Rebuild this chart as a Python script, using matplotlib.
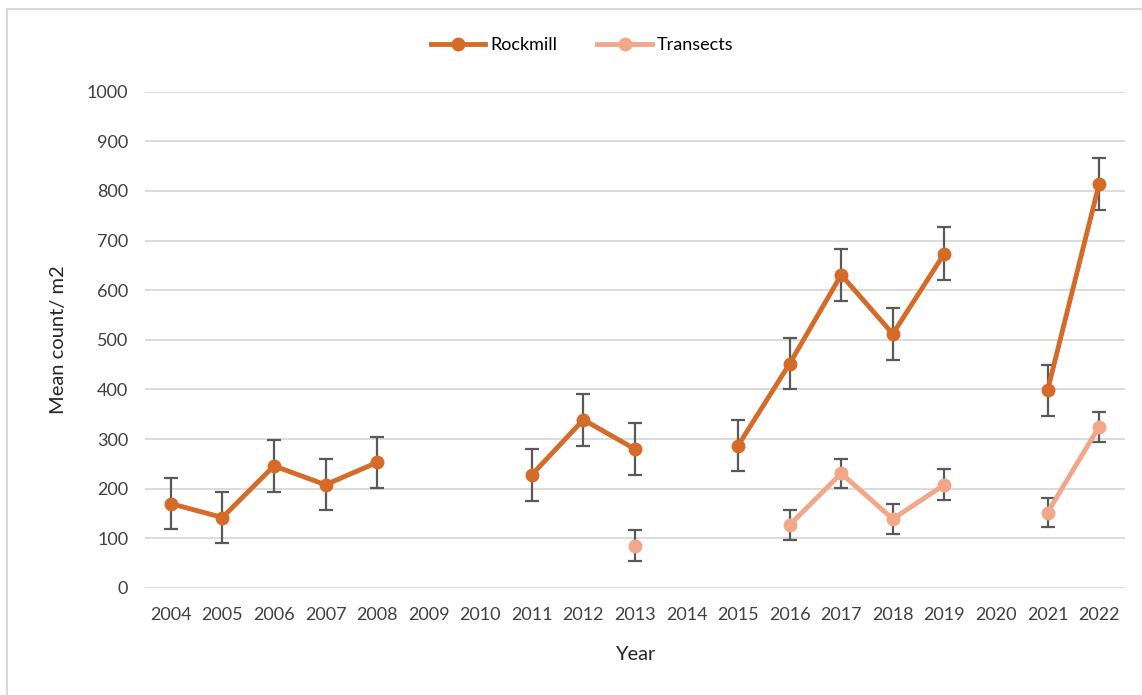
import numpy as np
import matplotlib.pyplot as plt
from matplotlib.lines import Line2D

plt.rcParams['font.family'] = ['Lato', 'DejaVu Sans']

# Datos
years = ['2004', '2005', '2006', '2007', '2008', '2009', '2010', '2011', '2012', '2013',
         '2014', '2015', '2016', '2017', '2018', '2019', '2020', '2021', '2022']
nan = np.nan
rockmill = [170, 142, 246, 208, 253, nan, nan, 228, 339, 280,
            nan, 287, 452, 631, 512, 674, nan, 398, 814]
rockmill_err = [51, 52, 52, 51, 52, nan, nan, 52, 52, 52,
                nan, 52, 51, 52, 52, 53, nan, 51, 53]
transects = [nan, nan, nan, nan, nan, nan, nan, nan, nan, 85,
             nan, nan, 127, 231, 139, 208, nan, 152, 325]
transects_err = [nan, nan, nan, nan, nan, nan, nan, nan, nan, 31,
                 nan, nan, 31, 29, 30, 31, nan, 29, 30]

c_rock = '#D46B29'
c_tran = '#F2A78A'
c_err = '#595959'

fig = plt.figure(figsize=(11.42, 6.95), dpi=100)
ax = fig.add_axes([0.127, 0.154, 0.858, 0.714])

x = np.arange(len(years))

for vals, errs, col in [(rockmill, rockmill_err, c_rock), (transects, transects_err, c_tran)]:
    vals = np.array(vals, dtype=float)
    errs = np.array(errs, dtype=float)
    ax.errorbar(x, vals, yerr=errs, fmt='none', ecolor=c_err, elinewidth=1.6,
                capsize=5, capthick=1.6, zorder=2)
    ax.plot(x, vals, color=col, linewidth=3.5, marker='o', markersize=9, zorder=3)

ax.set_xlim(-0.5, len(years) - 0.5)
ax.set_ylim(0, 1000)
ax.set_xticks(x)
ax.set_xticklabels(years)
ax.set_yticks(np.arange(0, 1001, 100))
ax.tick_params(axis='both', length=0, labelsize=13, colors='#404040')
ax.tick_params(axis='x', pad=14)
ax.tick_params(axis='y', pad=12)
ax.yaxis.grid(True, color='#D9D9D9', linewidth=1.3)
ax.set_axisbelow(True)
for s in ax.spines.values():
    s.set_visible(False)

ax.set_xlabel('Year', fontsize=14.5, color='#262626', labelpad=16)
ax.set_ylabel('Mean count/ m2', fontsize=14.5, color='#262626', labelpad=14)

handles = [Line2D([], [], color=c_rock, linewidth=3.5, marker='o', markersize=9),
           Line2D([], [], color=c_tran, linewidth=3.5, marker='o', markersize=9)]
fig.legend(handles, ['Rockmill', 'Transects'], loc='center', bbox_to_anchor=(0.51, 0.935),
           ncol=2, frameon=False, fontsize=13, handlelength=3, columnspacing=2.2,
           handletextpad=0.3)

# Marco del gráfico
fig.add_artist(plt.Rectangle((7 / 1142, -0.1), 1.2, 1.1 - 9 / 695, transform=fig.transFigure,
                             fill=False, edgecolor='#D9D9D9', linewidth=1.5))

fig.savefig('out.png', dpi=100)
